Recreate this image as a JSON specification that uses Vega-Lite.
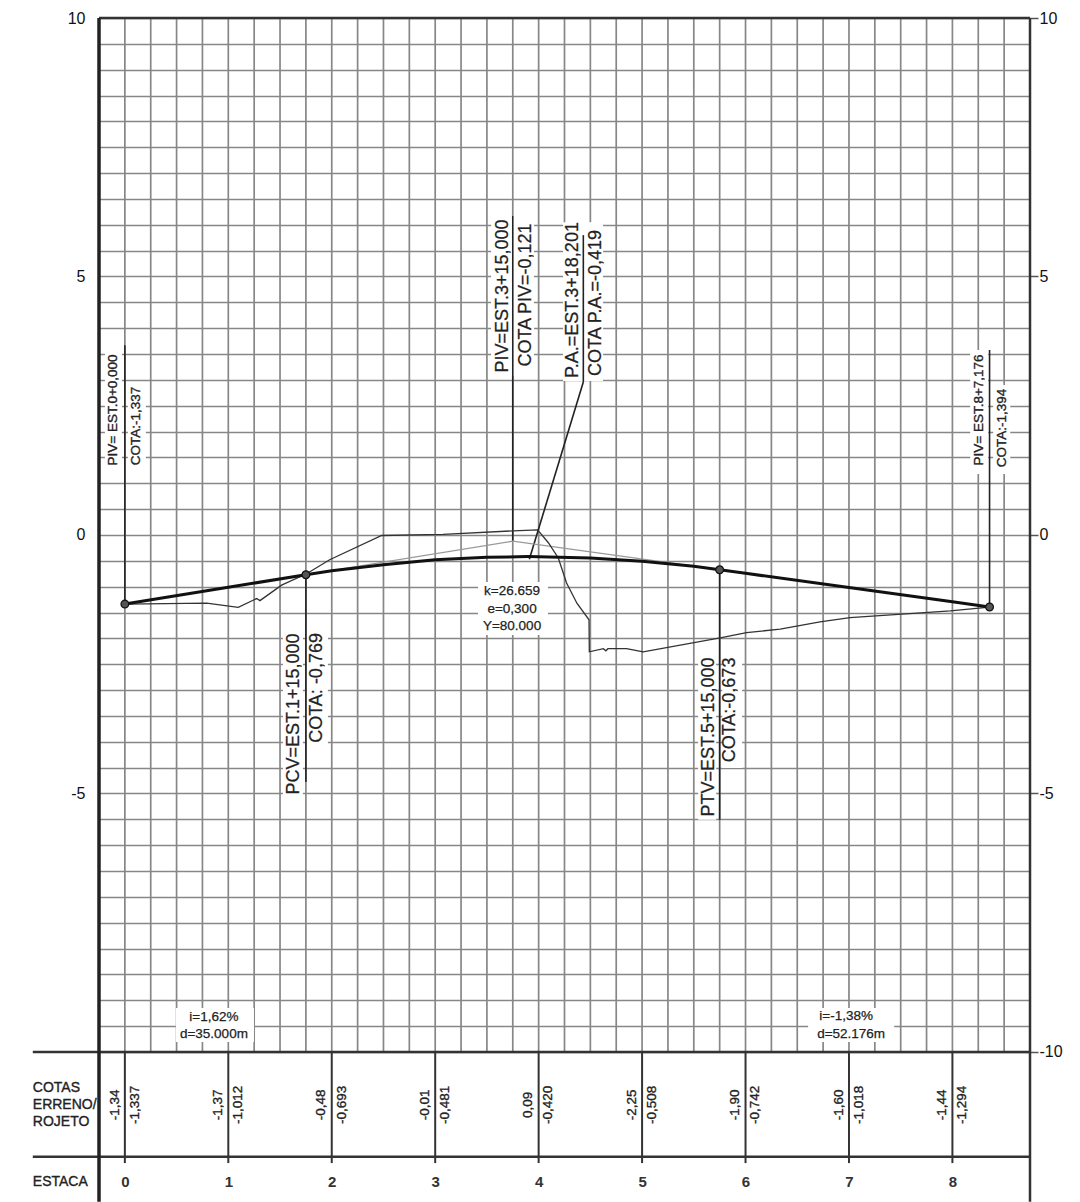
{
"$schema":"https://vega.github.io/schema/vega-lite/v6.json",
"width":931,"height":1184,
"autosize":{"type":"none"},
"padding":{"left":99,"top":18,"right":50,"bottom":0},
"background":"white",
"config":{"font":"Liberation Sans","view":{"stroke":null}},
"datasets":{
"gridx":[{"x":-0.25},{"x":0},{"x":0.25},{"x":0.5},{"x":0.75},{"x":1},{"x":1.25},{"x":1.5},{"x":1.75},{"x":2},{"x":2.25},{"x":2.5},{"x":2.75},{"x":3},{"x":3.25},{"x":3.5},{"x":3.75},{"x":4},{"x":4.25},{"x":4.5},{"x":4.75},{"x":5},{"x":5.25},{"x":5.5},{"x":5.75},{"x":6},{"x":6.25},{"x":6.5},{"x":6.75},{"x":7},{"x":7.25},{"x":7.5},{"x":7.75},{"x":8},{"x":8.25},{"x":8.5}],
"masks":[
{"x":3.414,"x2":4.09,"y":-0.909,"y2":-1.934},
{"x":0.493,"x2":1.248,"y":-9.149,"y2":-9.807},
{"x":6.605,"x2":7.437,"y":-9.149,"y2":-9.807},
{"x":3.54,"x2":3.955,"y":6.17,"y2":3.075},
{"x":4.236,"x2":4.623,"y":6.05,"y2":2.98},
{"x":1.528,"x2":1.721,"y":-1.84,"y2":-5.13},
{"x":1.76,"x2":1.963,"y":-1.84,"y2":-4.12},
{"x":5.542,"x2":5.716,"y":-2.32,"y2":-5.51},
{"x":5.774,"x2":5.967,"y":-2.32,"y2":-4.51},
{"x":-0.193,"x2":-0.029,"y":3.62,"y2":1.26},
{"x":0.029,"x2":0.203,"y":2.9,"y2":1.26},
{"x":8.172,"x2":8.346,"y":3.58,"y2":1.18},
{"x":8.394,"x2":8.559,"y":2.9,"y2":1.18}],
"frame":[
{"x":8.75,"x2":8.75,"y":10,"y2":-12.9},
{"x":-0.25,"x2":8.75,"y":10,"y2":10},
{"x":-0.89,"x2":8.75,"y":-10,"y2":-10},
{"x":-0.89,"x2":8.75,"y":-12.03,"y2":-12.03}],
"frameLeft":[{"x":-0.25,"x2":-0.25,"y":10,"y2":-12.9}],
"ticks":[
{"x":0,"x2":0,"y":-10,"y2":-12.15},{"x":1,"x2":1,"y":-10,"y2":-12.15},{"x":2,"x2":2,"y":-10,"y2":-12.15},{"x":3,"x2":3,"y":-10,"y2":-12.15},{"x":4,"x2":4,"y":-10,"y2":-12.15},{"x":5,"x2":5,"y":-10,"y2":-12.15},{"x":6,"x2":6,"y":-10,"y2":-12.15},{"x":7,"x2":7,"y":-10,"y2":-12.15},{"x":8,"x2":8,"y":-10,"y2":-12.15}],
"callouts":[
{"x":0,"x2":0,"y":-1.337,"y2":3.67},
{"x":1.75,"x2":1.75,"y":-0.769,"y2":-4.78},
{"x":3.75,"x2":3.75,"y":-0.121,"y2":6.17},
{"x":5.75,"x2":5.75,"y":-0.673,"y2":-5.51},
{"x":8.359,"x2":8.359,"y":-1.394,"y2":3.58},
{"x":4.432,"x2":4.432,"y":5.8,"y2":2.96},
{"x":4.432,"x2":3.91,"y":2.96,"y2":-0.47}],
"tangent":[{"x":0,"y":-1.337},{"x":3.75,"y":-0.121},{"x":8.359,"y":-1.394}],
"terrain":[{"x":0,"y":-1.337},{"x":0.79,"y":-1.32},{"x":1.096,"y":-1.4},{"x":1.274,"y":-1.23},{"x":1.306,"y":-1.27},{"x":1.515,"y":-0.97},{"x":1.757,"y":-0.75},{"x":1.98,"y":-0.48},{"x":2.483,"y":-0.01},{"x":3.075,"y":0.01},{"x":3.752,"y":0.08},{"x":3.99,"y":0.1},{"x":4.094,"y":-0.15},{"x":4.19,"y":-0.445},{"x":4.27,"y":-0.93},{"x":4.37,"y":-1.32},{"x":4.487,"y":-1.64},{"x":4.49,"y":-2.26},{"x":4.626,"y":-2.2},{"x":4.65,"y":-2.24},{"x":4.67,"y":-2.2},{"x":4.85,"y":-2.2},{"x":5.01,"y":-2.26},{"x":5.755,"y":-1.99},{"x":6.01,"y":-1.89},{"x":6.335,"y":-1.82},{"x":6.72,"y":-1.68},{"x":7.01,"y":-1.6},{"x":7.98,"y":-1.47},{"x":8.359,"y":-1.394}],
"design":[{"x":0,"y":-1.337},{"x":1,"y":-1.012},{"x":1.75,"y":-0.769},{"x":2,"y":-0.693},{"x":2.5,"y":-0.575},{"x":3,"y":-0.481},{"x":3.5,"y":-0.432},{"x":3.9,"y":-0.419},{"x":4,"y":-0.42},{"x":4.5,"y":-0.448},{"x":5,"y":-0.508},{"x":5.5,"y":-0.605},{"x":5.75,"y":-0.673},{"x":6,"y":-0.742},{"x":7,"y":-1.018},{"x":8,"y":-1.294},{"x":8.359,"y":-1.394}],
"nodes":[{"x":0,"y":-1.337},{"x":1.75,"y":-0.769},{"x":5.75,"y":-0.673},{"x":8.359,"y":-1.394}],
"labels":[
{"kind":"big","x":3.656,"y":4.623,"t":"PIV=EST.3+15,000"},
{"kind":"big","x":3.878,"y":4.642,"t":"COTA PIV=-0,121"},
{"kind":"big","x":4.333,"y":4.545,"t":"P.A.=EST.3+18,201"},
{"kind":"big","x":4.555,"y":4.487,"t":"COTA P.A.=-0,419"},
{"kind":"big","x":1.634,"y":-3.462,"t":"PCV=EST.1+15,000"},
{"kind":"big","x":1.857,"y":-2.959,"t":"COTA: -0,769"},
{"kind":"big","x":5.648,"y":-3.907,"t":"PTV=EST.5+15,000"},
{"kind":"big","x":5.851,"y":-3.385,"t":"COTA:-0,673"},
{"kind":"small","x":-0.116,"y":2.418,"t":"PIV= EST.0+0,000"},
{"kind":"small","x":0.106,"y":2.108,"t":"COTA:-1,337"},
{"kind":"small","x":8.259,"y":2.418,"t":"PIV= EST.8+7,176"},
{"kind":"small","x":8.482,"y":2.07,"t":"COTA:-1,394"},
{"kind":"small","x":-0.1,"y":-11.025,"t":"-1,34"},{"kind":"small","x":0.095,"y":-11.025,"t":"-1,337"},
{"kind":"small","x":0.9,"y":-11.025,"t":"-1,37"},{"kind":"small","x":1.095,"y":-11.025,"t":"-1,012"},
{"kind":"small","x":1.9,"y":-11.025,"t":"-0,48"},{"kind":"small","x":2.095,"y":-11.025,"t":"-0,693"},
{"kind":"small","x":2.9,"y":-11.025,"t":"-0,01"},{"kind":"small","x":3.095,"y":-11.025,"t":"-0,481"},
{"kind":"small","x":3.9,"y":-11.025,"t":"0,09"},{"kind":"small","x":4.095,"y":-11.025,"t":"-0,420"},
{"kind":"small","x":4.9,"y":-11.025,"t":"-2,25"},{"kind":"small","x":5.095,"y":-11.025,"t":"-0,508"},
{"kind":"small","x":5.9,"y":-11.025,"t":"-1,90"},{"kind":"small","x":6.095,"y":-11.025,"t":"-0,742"},
{"kind":"small","x":6.9,"y":-11.025,"t":"-1,60"},{"kind":"small","x":7.095,"y":-11.025,"t":"-1,018"},
{"kind":"small","x":7.9,"y":-11.025,"t":"-1,44"},{"kind":"small","x":8.095,"y":-11.025,"t":"-1,294"},
{"kind":"flat","x":3.743,"y":-1.083,"t":"k=26.659"},
{"kind":"flat","x":3.743,"y":-1.431,"t":"e=0,300"},
{"kind":"flat","x":3.743,"y":-1.76,"t":"Y=80.000"},
{"kind":"flat","x":0.861,"y":-9.323,"t":"i=1,62%"},
{"kind":"flat","x":0.861,"y":-9.652,"t":"d=35.000m"},
{"kind":"flat","x":6.973,"y":-9.304,"t":"i=-1,38%"},
{"kind":"flat","x":7.021,"y":-9.652,"t":"d=52.176m"},
{"kind":"side","x":-0.89,"y":-10.7,"t":"COTAS"},
{"kind":"side","x":-0.89,"y":-11.03,"t":"ERRENO/"},
{"kind":"side","x":-0.89,"y":-11.35,"t":"ROJETO"},
{"kind":"side","x":-0.89,"y":-12.515,"t":"ESTACA"}]
},
"resolve":{"axis":{"y":"independent","x":"independent"}},
"encoding":{
"x":{"field":"x","type":"quantitative","scale":{"domain":[-0.25,8.75],"nice":false,"zero":false},"axis":null},
"y":{"field":"y","type":"quantitative","scale":{"domain":[-12.903,10],"nice":false,"zero":false},"axis":null}
},
"layer":[
{"data":{"name":"gridx"},"transform":[{"calculate":"10","as":"y"},{"calculate":"-10","as":"y2"}],"mark":{"type":"rule","stroke":"#878787","strokeWidth":1.7},
 "encoding":{"y2":{"field":"y2"},
 "x":{"field":"x","type":"quantitative","scale":{"domain":[-0.25,8.75],"nice":false,"zero":false},"axis":{"orient":"bottom","values":[0,1,2,3,4,5,6,7,8],"title":null,"domain":false,"ticks":false,"grid":false,"labelPadding":-28,"labelFontSize":15,"labelFontWeight":"bold","labelColor":"#333","labelFont":"Liberation Sans","labelExpr":"''+datum.value"}},
 "y":{"field":"y","type":"quantitative","scale":{"domain":[-12.903,10],"nice":false,"zero":false},"axis":{"orient":"left","title":null,"domain":false,"ticks":false,"grid":true,"gridColor":"#878787","gridWidth":1.7,"values":[10,9.5,9,8.5,8,7.5,7,6.5,6,5.5,5,4.5,4,3.5,3,2.5,2,1.5,1,0.5,0,-0.5,-1,-1.5,-2,-2.5,-3,-3.5,-4,-4.5,-5,-5.5,-6,-6.5,-7,-7.5,-8,-8.5,-9,-9.5,-10],"labelExpr":"datum.value%5===0 && datum.value>-10 ? ''+datum.value : ''","labelFontSize":16,"labelColor":"#111","labelPadding":14,"labelFont":"Liberation Sans"}}}},
{"data":{"name":"masks"},"mark":{"type":"rect","fill":"white"},"encoding":{"x2":{"field":"x2"},"y2":{"field":"y2"}}},
{"data":{"name":"frame"},"mark":{"type":"rule","stroke":"#333","strokeWidth":2.5},"encoding":{"x2":{"field":"x2"},"y2":{"field":"y2"}}},
{"data":{"name":"frameLeft"},"mark":{"type":"rule","stroke":"#222","strokeWidth":3.5},"encoding":{"x2":{"field":"x2"},"y2":{"field":"y2"}}},
{"data":{"name":"ticks"},"mark":{"type":"rule","stroke":"#333","strokeWidth":2},"encoding":{"x2":{"field":"x2"},"y2":{"field":"y2"}}},
{"data":{"name":"callouts"},"mark":{"type":"rule","stroke":"#222","strokeWidth":1.6},"encoding":{"x2":{"field":"x2"},"y2":{"field":"y2"}}},
{"data":{"name":"tangent"},"mark":{"type":"line","stroke":"#999","strokeWidth":1.3}},
{"data":{"name":"terrain"},"mark":{"type":"line","stroke":"#333","strokeWidth":1.3}},
{"data":{"name":"design"},"mark":{"type":"line","stroke":"#111","strokeWidth":3}},
{"data":{"name":"nodes"},"mark":{"type":"point","shape":"circle","size":60,"filled":true,"fill":"#555","stroke":"#111","strokeWidth":1.2,"opacity":1}},
{"data":{"name":"labels"},"transform":[{"filter":"datum.kind==='big'"}],"mark":{"type":"text","angle":270,"align":"center","baseline":"middle","fontSize":18,"fill":"#222","stroke":"#222","strokeWidth":0.25},"encoding":{"text":{"field":"t"}}},
{"data":{"name":"labels"},"transform":[{"filter":"datum.kind==='small'"}],"mark":{"type":"text","angle":270,"align":"center","baseline":"middle","fontSize":13.5,"fill":"#222","stroke":"#222","strokeWidth":0.35},"encoding":{"text":{"field":"t"}}},
{"data":{"name":"labels"},"transform":[{"filter":"datum.kind==='flat'"}],"mark":{"type":"text","align":"center","baseline":"middle","fontSize":13.5,"fill":"#222","stroke":"#222","strokeWidth":0.25},"encoding":{"text":{"field":"t"}}},
{"data":{"name":"labels"},"transform":[{"filter":"datum.kind==='side'"}],"mark":{"type":"text","align":"left","baseline":"middle","fontSize":14,"fill":"#222","stroke":"#222","strokeWidth":0.35},"encoding":{"text":{"field":"t"}}},
{"data":{"values":[{"y":10},{"y":5},{"y":0},{"y":-5},{"y":-10}]},"mark":{"type":"text","text":"","opacity":0},
 "encoding":{"x":{"datum":0,"type":"quantitative"},"y":{"field":"y","type":"quantitative","axis":{"orient":"right","title":null,"domain":false,"ticks":true,"tickSize":8,"tickColor":"#555","tickWidth":1.5,"grid":false,"values":[10,5,0,-5,-10],"labelExpr":"''+datum.value","labelFontSize":16,"labelColor":"#111","labelPadding":1,"labelFont":"Liberation Sans"}}}}
]
}
